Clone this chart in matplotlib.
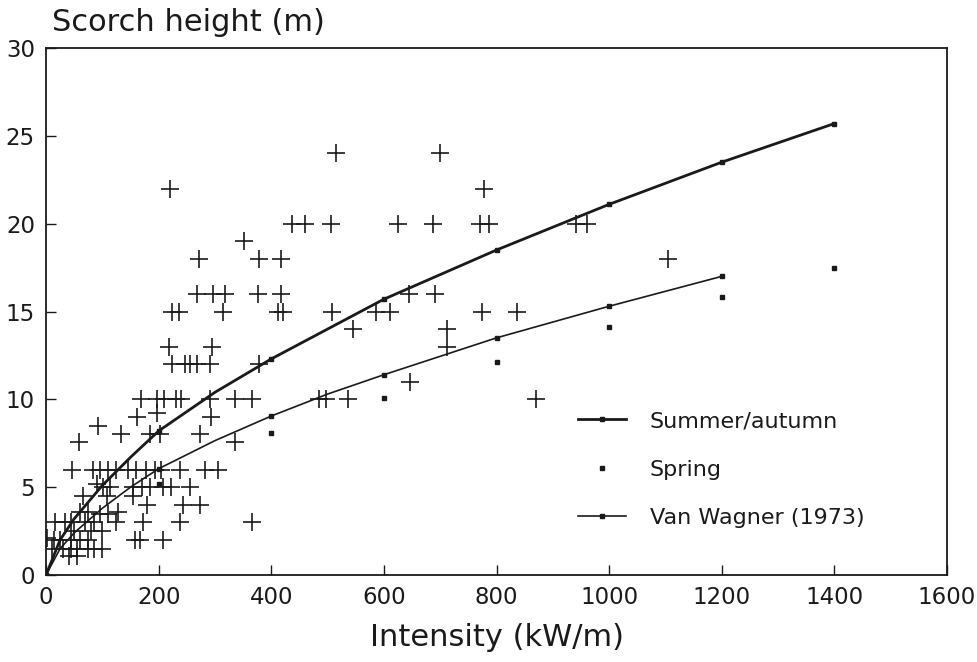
import matplotlib
matplotlib.use("Agg")
import matplotlib.pyplot as plt
import numpy as np

obs_x = [220, 515, 700, 777, 352, 436, 460, 506, 625, 688, 771, 787, 942, 961,
         1104, 272, 379, 418, 268, 297, 318, 377, 418, 644, 690,
         223, 237, 315, 412, 421, 508, 586, 611, 774, 837, 545, 712, 712, 219, 294,
         223, 247, 256, 268, 291, 379, 646,
         169, 197, 209, 231, 240, 292, 336, 365, 484, 497, 537, 871,
         161, 197, 293, 93,
         134, 185, 202, 274, 336, 59,
         46, 84, 96, 110, 125, 145, 160, 178, 193, 205, 238, 282, 305,
         90, 102, 114, 155, 170, 185, 208, 222, 256,
         66, 108, 155, 179, 244, 274,
         60, 75, 95, 110, 128,
         16, 33, 45, 70, 85, 125, 173, 238, 366,
         50, 80, 100,
         2, 15, 25, 45, 60, 75, 158, 167, 208,
         10, 30, 45, 55, 75, 85, 99,
         40, 55]
obs_y = [22, 24, 24, 22, 19, 20, 20, 20, 20, 20, 20, 20, 20, 20,
         18, 18, 18, 18, 16, 16, 16, 16, 16, 16, 16,
         15, 15, 15, 15, 15, 15, 15, 15, 15, 15, 14, 14, 13, 13, 13,
         12, 12, 12, 12, 12, 12, 11,
         10, 10, 10, 10, 10, 10, 10, 10, 10, 10, 10, 10,
         9, 9.2, 9, 8.5,
         8, 8, 8, 8, 7.6, 7.6,
         6, 6, 6, 6, 6, 6, 6, 6, 6, 6, 6, 6, 6,
         5.2, 5, 5, 5, 5, 5, 5, 5, 5,
         4.5, 4.5, 4.5, 4, 4, 4,
         3.6, 3.6, 3.5, 3.5, 3.6,
         3, 3, 3, 3, 3, 3, 3, 3, 3,
         2.5, 2.5, 2.5,
         2.1, 2, 2, 2, 2, 2, 2, 2, 2,
         1.5, 1.5, 1.5, 1.5, 1.5, 1.5, 1.5,
         1.1, 1.1]

# Summer/autumn fitted curve
summer_x = [0, 25, 50, 100, 150, 200, 300, 400, 500, 600, 800, 1000, 1200, 1400]
summer_y = [0, 2.0, 3.2, 5.1, 6.7, 8.2, 10.4, 12.3, 14.0, 15.7, 18.5, 21.1, 23.5, 25.7]

# Van Wagner (1973) curve
vw_x = [0, 25, 50, 100, 150, 200, 300, 400, 500, 600, 800, 1000, 1200]
vw_y = [0, 1.5, 2.4, 3.8, 5.0, 6.05, 7.65, 9.05, 10.3, 11.4, 13.5, 15.3, 17.0]

# Spring points
spring_x = [200, 400, 600, 800, 1000, 1200, 1400]
spring_y = [5.2, 8.1, 10.1, 12.1, 14.1, 15.8, 17.5]

plt.rcParams['font.family'] = ['DejaVu Sans']
fig = plt.figure(figsize=(9.77, 6.62), dpi=100)
ax = fig.add_axes([0.0471, 0.1314, 0.9222, 0.7961])

ink = '#1a1a1a'

ax.plot(obs_x, obs_y, linestyle='none', marker='+', ms=13, mew=1.2, color=ink)

sx = np.array(summer_x)
sy = np.array(summer_y)
vx = np.array(vw_x)
vy = np.array(vw_y)
s_marks = [i for i, v in enumerate(summer_x) if v % 200 == 0]
v_marks = [i for i, v in enumerate(vw_x) if v % 200 == 0]

ax.plot(sx, sy, color=ink, lw=2.0, marker='s', ms=3, markevery=s_marks,
        label='Summer/autumn')
ax.plot(spring_x, spring_y, linestyle='none', marker='s', ms=3.5, color=ink,
        label='Spring')
ax.plot(vx, vy, color=ink, lw=1.2, marker='s', ms=3, markevery=v_marks,
        label='Van Wagner (1973)')

ax.set_xlim(0, 1600)
ax.set_ylim(0, 30)
ax.set_xticks(np.arange(0, 1601, 200))
ax.set_yticks(np.arange(0, 31, 5))
ax.tick_params(direction='in', length=7, width=1, labelsize=16.5, colors=ink,
               pad=8, top=False, right=False)
for s in ax.spines.values():
    s.set_linewidth(1.3)
    s.set_color(ink)

ax.set_xlabel('Intensity (kW/m)', fontsize=22, color=ink, labelpad=10)
fig.text(0.053, 0.966, 'Scorch height (m)', fontsize=22, color=ink,
         ha='left', va='center')

ax.legend(loc='upper left', bbox_to_anchor=(0.59, 0.311), frameon=False,
          fontsize=16, handlelength=2.2, handletextpad=1.05, labelspacing=1.28,
          borderpad=0, borderaxespad=0, numpoints=1, labelcolor=ink)

fig.savefig('out.png', dpi=100)
